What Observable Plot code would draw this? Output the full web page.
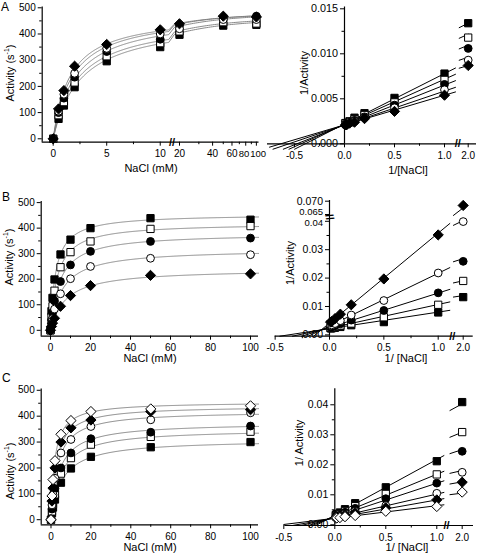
<!DOCTYPE html>
<html><head><meta charset="utf-8">
<script src="https://cdn.jsdelivr.net/npm/d3@7"></script>
<script src="https://cdn.jsdelivr.net/npm/@observablehq/plot@0.6"></script>
<style>
body{margin:0;background:#fff;}
#wrap{position:relative;width:477px;height:554px;overflow:hidden;background:#fff;}
#wrap svg{position:absolute;left:0;top:0;}
</style></head><body><div id="wrap"></div>
<script>
// ---------------- data ----------------
const nacl = [0, 0.5, 1, 2, 5, 10, 20, 50, 100];          // NaCl (mM)
const invNacl = [0.01, 0.02, 0.05, 0.1, 0.2, 0.5, 1.0, 2.0]; // 1/[NaCl]

// panel A (activity, s^-1)
const actA_fSq  = [0, 76, 127, 197, 296, 350, 397, 432, 435];
const actA_oSq  = [0, 90, 140, 215, 315, 365, 410, 445, 440];
const actA_fCir = [0, 100, 155, 235, 333, 380, 432, 460, 468];
const actA_oCir = [0, 105, 170, 250, 345, 400, 420, 455, 455];
const actA_fDia = [0, 114, 184, 277, 360, 416, 439, 468, 465];
// panel A (1/activity)
const recA_fSq  = [0.0023, 0.0023, 0.0025, 0.0029, 0.0034, 0.0051, 0.0078, 0.0134];
const recA_oSq  = [0.0023, 0.0022, 0.0024, 0.0027, 0.0032, 0.0046, 0.0071, 0.0118];
const recA_fCir = [0.0021, 0.0022, 0.0023, 0.0026, 0.0030, 0.0043, 0.0066, 0.0106];
const recA_oCir = [0.0022, 0.0022, 0.0024, 0.0025, 0.0029, 0.0040, 0.0060, 0.0093];
const recA_fDia = [0.0021, 0.0021, 0.0023, 0.0024, 0.0028, 0.0036, 0.0054, 0.0087];
const vmaxA = [455, 460, 475, 478, 476];
const kmA   = [2.55, 2.3, 2.1, 1.8, 1.57];

// panel B
const actB_fSq  = [0, 75, 127, 199, 297, 355, 400, 439, 433];
const actB_oSq  = [0, 53, 94, 155, 247, 306, 348, 397, 408];
const actB_fCir = [0, 39, 68, 115, 191, 256, 309, 348, 361];
const actB_oCir = [0, 25, 46, 83, 143, 202, 250, 282, 296];
const actB_fDia = [0, 15, 28, 47, 94, 136, 175, 215, 221];
const recB_fSq  = [0.0023, 0.0023, 0.0025, 0.0028, 0.0034, 0.0045, 0.0079, 0.0133];
const recB_oSq  = [0.0025, 0.0025, 0.0029, 0.0033, 0.0040, 0.0062, 0.0106, 0.0190];
const recB_fCir = [0.0028, 0.0029, 0.0032, 0.0039, 0.0052, 0.0086, 0.0148, 0.0259];
const recB_oCir = [0.0034, 0.0035, 0.0040, 0.0050, 0.0070, 0.0121, 0.0218, 0.0399];
const recB_fDia = [0.0045, 0.0047, 0.0057, 0.0073, 0.0106, 0.0197, 0.0352, 0.0684];
const vmaxB = [455, 420, 380, 318, 240];
const kmB   = [2.65, 3.5, 4.6, 5.9, 7.6];

// panel C
const actC_fSq  = [0, 25, 47, 78, 143, 198, 243, 280, 300];
const actC_oSq  = [0, 32, 60, 98, 178, 238, 290, 320, 340];
const actC_fCir = [0, 41, 73, 120, 200, 258, 313, 338, 362];
const actC_oCir = [0, 57, 97, 160, 258, 310, 360, 386, 413];
const actC_fDia = [0, 72, 122, 200, 300, 355, 385, 418, 425];
const actC_oDia = [0, 92, 155, 228, 330, 383, 418, 428, 440];
const recC_fSq  = [0.0033, 0.0036, 0.0041, 0.0052, 0.0072, 0.0125, 0.0212, 0.0409];
const recC_oSq  = [0.0029, 0.0031, 0.0035, 0.0046, 0.0062, 0.0103, 0.0168, 0.0309];
const recC_fCir = [0.0028, 0.0030, 0.0032, 0.0042, 0.0055, 0.0087, 0.0139, 0.0245];
const recC_oCir = [0.0024, 0.0026, 0.0028, 0.0036, 0.0045, 0.0064, 0.0105, 0.0175];
const recC_fDia = [0.0024, 0.0024, 0.0026, 0.0032, 0.0040, 0.0057, 0.0083, 0.0142];
const recC_oDia = [0.0023, 0.0023, 0.0024, 0.0027, 0.0031, 0.0045, 0.0061, 0.0109];
const vmaxC = [310, 350, 375, 420, 440, 455];
const kmC   = [5.75, 4.9, 4.2, 3.3, 2.65, 1.9];

const seriesA = ["fSq", "oSq", "fCir", "oCir", "fDia"];
const seriesC = ["fSq", "oSq", "fCir", "oCir", "fDia", "oDia"];

// tick values / labels
const tickAct = [0, 100, 200, 300, 400, 500];
const minorAct = [50, 150, 250, 350, 450];
const tickNaclA = [0, 5, 10, 20, 40, 60];
const tickNaclAEnd = [80, 100];
const minorNaclA = [2.5, 7.5, 30, 50, 70, 90];
const tickNacl = [0, 20, 40, 60, 80, 100];
const minorNacl = [10, 30, 50, 70, 90];
const tickInv = [-0.5, 0, 0.5, 1.0, 2.0];
const minorInv = [-0.25, 0.25, 0.75];
const tickRecA = [0, 0.005, 0.010, 0.015];
const minorRecA = [0.0025, 0.0075, 0.0125];
const tickRecB = [0, 0.01, 0.02, 0.03];
const tickRecBEdge = [0.04, 0.065];
const tickRecBTop = [0.070];
const minorRecB = [0.005, 0.015, 0.025, 0.035];
const tickRecC = [0, 0.01, 0.02, 0.03, 0.04];
const minorRecC = [0.005, 0.015, 0.025, 0.035];

// ---------------- helpers ----------------
const W = 477, H = 554;
const FONT = "'Liberation Sans', Arial, Helvetica, sans-serif";
const markStyle = {
  fSq:  {symbol: "square",   fill: "black", r: 4.1},
  oSq:  {symbol: "square",   fill: "white", r: 4.1},
  fCir: {symbol: "circle",   fill: "black", r: 3.9},
  oCir: {symbol: "circle",   fill: "white", r: 3.9},
  fDia: {symbol: "diamond2", fill: "black", r: 4.6},
  oDia: {symbol: "diamond2", fill: "white", r: 4.6}
};
const fmtDec = n => v => (v < 0 ? "-" : "") + Math.abs(v).toFixed(n);

function rows(series, xs, arrays) {
  return series.flatMap((s, i) => xs.map((x, j) => ({s, x, y: arrays[i][j]})));
}
function dots(data, series, xf, yf) {
  return series.map(s => Plot.dot(data.filter(d => d.s === s),
    {x: xf, y: yf, stroke: "black", strokeWidth: 1, ...markStyle[s]}));
}
const TXT = {label: null, fontSize: 10, fontVariant: "normal"};
function axes({xMajor, xMinor, xFmt, yMajor, yMinor, yFmt, xLine, yLine, yFont = 10}) {
  return [
    Plot.ruleY([xLine], {y: "y", x1: "x1", x2: "x2", stroke: "black", strokeWidth: 1.2}),
    Plot.ruleX([yLine], {x: "x", y1: "y1", y2: "y2", stroke: "black", strokeWidth: 1.2}),
    Plot.axisX({ticks: xMajor, tickSize: 4, tickPadding: 4, tickFormat: xFmt, ...TXT}),
    Plot.axisX({ticks: xMinor, tickSize: 2.5, tickFormat: () => "", label: null}),
    Plot.axisY({ticks: yMajor, tickSize: 4, tickPadding: 2.5, tickFormat: yFmt, ...TXT, fontSize: yFont}),
    Plot.axisY({ticks: yMinor, tickSize: 2.5, tickFormat: () => "", label: null})
  ];
}
function panel({ml, mr, mt, mb, xDomain, yDomain, marks}) {
  const svg = Plot.plot({
    width: W, height: H, marginLeft: ml, marginRight: mr, marginTop: mt, marginBottom: mb,
    x: {type: "linear", domain: xDomain},
    y: {type: "linear", domain: yDomain},
    style: {background: "transparent", fontFamily: FONT, fontSize: "10px", color: "black", overflow: "visible"},
    marks
  });
  document.getElementById("wrap").appendChild(svg);
}
const breakMark = (x, y, rot = 0) => Plot.text([{x, y}], {x: "x", y: "y", text: () => "//", fontSize: 11, fontWeight: "bold", rotate: rot, fill: "black"});

// ---------------- panel A left ----------------
const uA = x => x <= 12 ? x : 11.8 + 10.28 * Math.log10(x / 20);
const uAinv = u => u <= 11 ? u : 20 * Math.pow(10, (u - 11.8) / 10.28);
const actA = [actA_fSq, actA_oSq, actA_fCir, actA_oCir, actA_fDia];
const fitXsA = [...d3.range(0, 10.85, 0.05), ...d3.range(0, 41).map(k => 18 * Math.pow(106 / 18, k / 40))];
const fitAL = seriesA.flatMap((s, i) => fitXsA.map(x => ({s, x, y: vmaxA[i] * x / (kmA[i] + x)})));
const ptsAL = rows(seriesA, nacl, actA);
const roundLabel = u => String(Math.round(uAinv(u)));
panel({
  ml: 41.7, mr: 218.5, mt: 6.5, mb: 412.3, xDomain: [-1.028, 19.23], yDomain: [-13, 503],
  marks: [
    ...axes({xMajor: tickNaclA.map(uA), xMinor: minorNaclA.map(uA), xFmt: roundLabel,
      yMajor: tickAct, yMinor: minorAct, yFmt: d => String(d),
      xLine: {y: -13, x1: -1.028, x2: 19.23}, yLine: {x: -1.028, y1: -13, y2: 503}}),
    // last two crowded labels ("80" and "100")
    Plot.axisX({ticks: tickNaclAEnd.map(uA), tickSize: 4, tickFormat: () => "", label: null}),
    Plot.axisX({ticks: [uA(tickNaclAEnd[0])], tickSize: 0, tickPadding: 8, tickFormat: roundLabel, ...TXT, fontSize: 9.5, dx: -1.6}),
    Plot.axisX({ticks: [uA(tickNaclAEnd[1])], tickSize: 0, tickPadding: 8, tickFormat: roundLabel, ...TXT, fontSize: 9.5, dx: 1.8}),
    breakMark(11.1, -13),
    Plot.line(fitAL, {x: d => uA(d.x), y: "y", z: "s", stroke: "#7d7d7d", strokeWidth: 0.9}),
    ...dots(ptsAL, seriesA, d => uA(d.x), "y")
  ]
});

// ---------------- panel A right ----------------
const shiftA = 0.763;
const bA = x => x < 1.5 ? x : x - shiftA;
const recA = [recA_fSq, recA_oSq, recA_fCir, recA_oCir, recA_fDia];
function lbLines(series, vmax, km, xmin, yclip, xEnd, stub0) {
  return series.flatMap((s, i) => {
    const m = km[i] / vmax[i], b = 1 / vmax[i];
    const x0 = Math.max(xmin, (yclip - b) / m);
    return [
      {s, seg: "m", x: x0, y: m * x0 + b}, {s, seg: "m", x: xEnd, y: m * xEnd + b},
      {s, seg: "t", x: stub0, y: m * stub0 + b}, {s, seg: "t", x: 2.0, y: m * 2.0 + b}
    ];
  });
}
const lbA = lbLines(seriesA, vmaxA, kmA, -0.75, -0.0006, 1.11, 1.91);
const ptsAR = rows(seriesA, invNacl, recA);
panel({
  ml: 344, mr: 1, mt: 6.5, mb: 410.7, xDomain: [0, 1.32], yDomain: [0, 0.0152],
  marks: [
    ...axes({xMajor: tickInv.map(bA), xMinor: minorInv, xFmt: u => fmtDec(1)(u < 1.15 ? u : u + shiftA),
      yMajor: tickRecA, yMinor: minorRecA, yFmt: fmtDec(3), yFont: 10.8,
      xLine: {y: 0, x1: -0.77, x2: 1.32}, yLine: {x: 0, y1: 0, y2: 0.0152}}),
    breakMark(1.133, 0),
    Plot.line(lbA, {x: d => bA(d.x), y: "y", z: d => d.s + d.seg, stroke: "black", strokeWidth: 1}),
    ...dots(ptsAR, seriesA, d => bA(d.x), "y")
  ]
});

// ---------------- panel B left ----------------
const actB = [actB_fSq, actB_oSq, actB_fCir, actB_oCir, actB_fDia];
const fitXsLin = [...d3.range(0, 5, 0.05), ...d3.range(5, 104.5, 0.5)];
const fitBL = seriesA.flatMap((s, i) => fitXsLin.map(x => ({s, x, y: vmaxB[i] * x / (kmB[i] + x)})));
const ptsBL = rows(seriesA, nacl, actB);
panel({
  ml: 40.7, mr: 219, mt: 201, mb: 218.3, xDomain: [-4.65, 104], yDomain: [-23.1, 504.3],
  marks: [
    ...axes({xMajor: tickNacl, xMinor: minorNacl, xFmt: d => String(d),
      yMajor: tickAct, yMinor: minorAct, yFmt: d => String(d),
      xLine: {y: -23.1, x1: -4.65, x2: 104}, yLine: {x: -4.65, y1: -23.1, y2: 504.3}}),
    Plot.line(fitBL, {x: "x", y: "y", z: "s", stroke: "#7d7d7d", strokeWidth: 0.9}),
    ...dots(ptsBL, seriesA, "x", "y")
  ]
});

// ---------------- panel B right ----------------
const shiftB = 0.77;
const bB = x => x < 1.5 ? x : x - shiftB;
const vB = y => y < 0.05 ? y : 0.04239 + (y - 0.065) * 0.9366;
const vBinv = v => v < 0.042 ? v : 0.065 + (v - 0.04239) / 0.9366;
const fmtB = v => { const y = vBinv(v); return y > 0.05 ? y.toFixed(3) : y.toFixed(2); };
const recB = [recB_fSq, recB_oSq, recB_fCir, recB_oCir, recB_fDia];
const lbB = lbLines(seriesA, vmaxB, kmB, -0.5, -0.00046, 1.107, 1.91);
const ptsBR = rows(seriesA, invNacl, recB);
panel({
  ml: 329, mr: 4.3, mt: 200, mb: 218.3, xDomain: [0, 1.322], yDomain: [-0.00046, 0.04732],
  marks: [
    ...axes({xMajor: tickInv.map(bB), xMinor: minorInv, xFmt: u => fmtDec(1)(u < 1.15 ? u : u + shiftB),
      yMajor: [...tickRecB, ...tickRecBTop].map(vB), yMinor: minorRecB, yFmt: fmtB, yFont: 10.5,
      xLine: {y: -0.00046, x1: -0.5, x2: 1.322}, yLine: {x: 0, y1: -0.00046, y2: 0.04732}}),
    // the two crowded labels on each side of the axis break
    Plot.axisY({ticks: tickRecBEdge.map(vB), tickSize: 4, tickFormat: () => "", label: null}),
    Plot.axisY({ticks: [vB(tickRecBEdge[0])], tickSize: 0, tickPadding: 6.5, tickFormat: fmtB, ...TXT, fontSize: 9.5, dy: 1.6}),
    Plot.axisY({ticks: [vB(tickRecBEdge[1])], tickSize: 0, tickPadding: 6.5, tickFormat: fmtB, ...TXT, fontSize: 9.5, dy: -2.2}),
    breakMark(1.129, -0.00046),
    breakMark(0, 0.0415, 75),
    Plot.line(lbB, {x: d => bB(d.x), y: d => vB(d.y), z: d => d.s + d.seg, stroke: "black", strokeWidth: 1}),
    ...dots(ptsBR, seriesA, d => bB(d.x), d => vB(d.y))
  ]
});

// ---------------- panel C left ----------------
const actC = [actC_fSq, actC_oSq, actC_fCir, actC_oCir, actC_fDia, actC_oDia];
const fitCL = seriesC.flatMap((s, i) => fitXsLin.map(x => ({s, x, y: vmaxC[i] * x / (kmC[i] + x)})));
const ptsCL = rows(seriesC, nacl, actC);
panel({
  ml: 40.7, mr: 219, mt: 388.5, mb: 29.7, xDomain: [-4.91, 104], yDomain: [-19.7, 505],
  marks: [
    ...axes({xMajor: tickNacl, xMinor: minorNacl, xFmt: d => String(d),
      yMajor: tickAct, yMinor: minorAct, yFmt: d => String(d),
      xLine: {y: -19.7, x1: -4.91, x2: 104}, yLine: {x: -4.91, y1: -19.7, y2: 505}}),
    Plot.line(fitCL, {x: "x", y: "y", z: "s", stroke: "#7d7d7d", strokeWidth: 0.9}),
    ...dots(ptsCL, seriesC, "x", "y")
  ]
});

// ---------------- panel C right ----------------
const shiftC = 0.751;
const bC = x => x < 1.5 ? x : x - shiftC;
const recC = [recC_fSq, recC_oSq, recC_fCir, recC_oCir, recC_fDia, recC_oDia];
const lbC = lbLines(seriesC, vmaxC, kmC, -0.5, -0.00023, 1.07, 1.88);
const ptsCR = rows(seriesC, invNacl, recC);
panel({
  ml: 334.3, mr: 4, mt: 388.3, mb: 29, xDomain: [0, 1.36], yDomain: [-0.00023, 0.04533],
  marks: [
    ...axes({xMajor: tickInv.map(bC), xMinor: minorInv, xFmt: u => fmtDec(1)(u < 1.15 ? u : u + shiftC),
      yMajor: tickRecC, yMinor: minorRecC, yFmt: fmtDec(2), yFont: 10.5,
      xLine: {y: -0.00023, x1: -0.49, x2: 1.36}, yLine: {x: 0, y1: -0.00023, y2: 0.04533}}),
    breakMark(1.095, -0.00023),
    Plot.line(lbC, {x: d => bC(d.x), y: "y", z: d => d.s + d.seg, stroke: "black", strokeWidth: 1}),
    ...dots(ptsCR, seriesC, d => bC(d.x), "y")
  ]
});

// ---------------- titles ----------------
const svgT = d3.select("#wrap").append("svg").attr("width", W).attr("height", H)
  .style("font-family", FONT).style("overflow", "visible");
const letters = [["A", 1, 11], ["B", 2, 201], ["C", 2, 382]];
letters.forEach(([t, x, y]) => svgT.append("text").attr("x", x).attr("y", y).attr("font-size", 12).text(t));
const xTitles = [["NaCl (mM)", 151, 172], ["1/[NaCl]", 408, 174], ["NaCl (mM)", 150, 362],
                 ["1/ [NaCl]", 406, 362], ["NaCl (mM)", 150, 551], ["1/ [NaCl]", 407, 551]];
xTitles.forEach(([t, x, y]) => svgT.append("text").attr("x", x).attr("y", y)
  .attr("text-anchor", "middle").attr("font-size", 11).text(t));
const yTitles = [["act", 10, 73], ["1/Activity", 304, 73], ["act", 9, 257],
                 ["1/Activity", 290, 263], ["act", 10, 471], ["1/ Activity", 299, 443]];
yTitles.forEach(([t, x, y]) => {
  const el = svgT.append("text").attr("transform", `translate(${x},${y}) rotate(-90)`)
    .attr("text-anchor", "middle").attr("dominant-baseline", "central").attr("font-size", 11);
  if (t === "act") {
    el.append("tspan").text("Activity (s");
    el.append("tspan").attr("font-size", 7).attr("dy", -4).text("-1");
    el.append("tspan").attr("dy", 4).text(")");
  } else el.text(t);
});
</script></body></html>
